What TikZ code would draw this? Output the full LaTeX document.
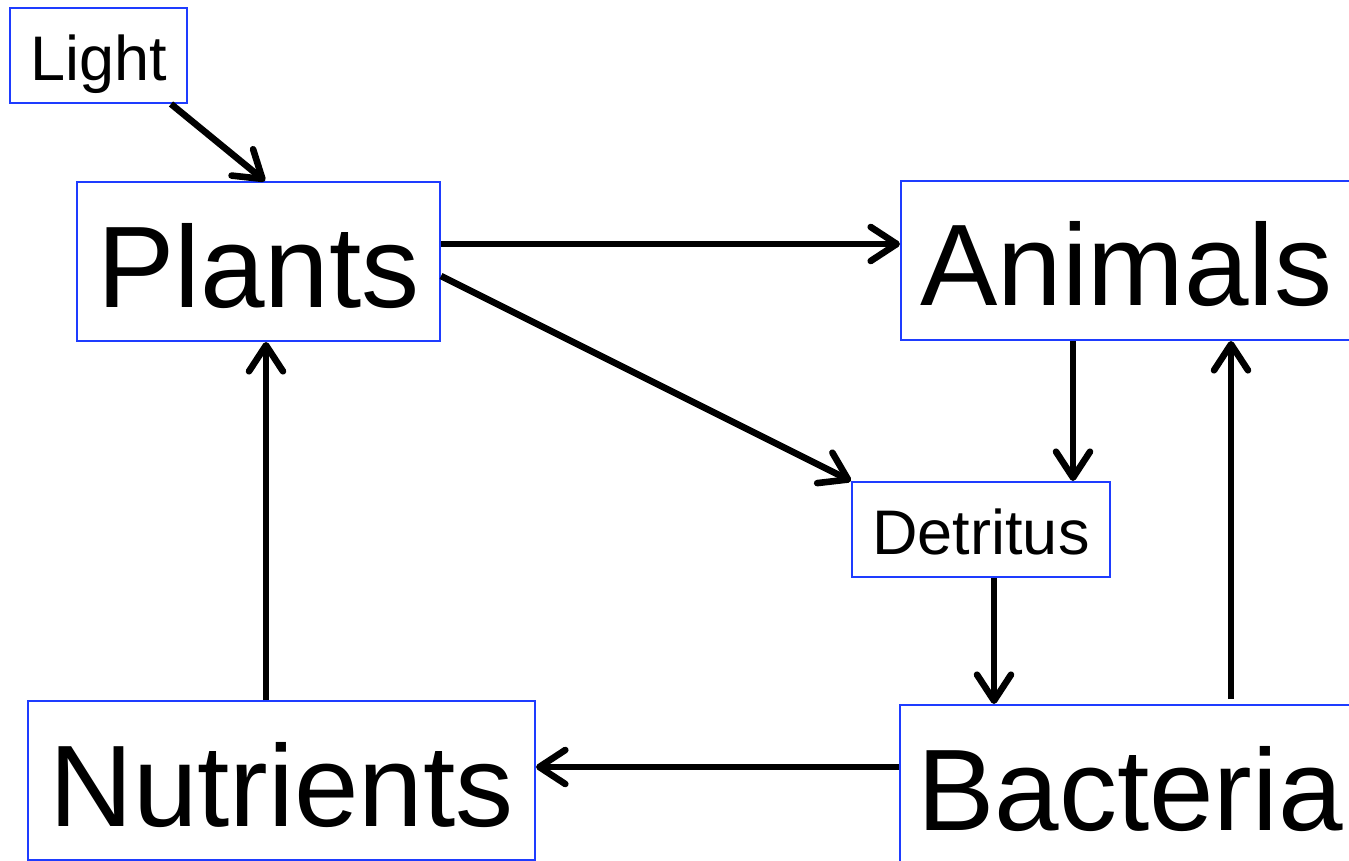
\documentclass[tikz,border=0pt]{standalone}
\usepackage{fontspec}
\setmainfont{Liberation Sans}
\usetikzlibrary{arrows.meta}
\definecolor{boxblue}{RGB}{30,60,255}

\begin{document}
\begin{tikzpicture}[x=0.5pt, y=-0.5pt, >={Straight Barb[length=13pt, width=17pt, round]}]
				\tikzstyle{every node}=[draw=boxblue, line width=1pt, inner sep=0pt, align=center, text depth=0pt]
				\tikzstyle{big}=[font=\fontsize{58}{60}\selectfont, text height=45.5pt, minimum height=79.5pt]
				\tikzstyle{small}=[font=\fontsize{31.5}{34}\selectfont, text height=24.7pt, minimum height=47.5pt]
				\tikzstyle{flow}=[line width=3.3pt]
				\clip (0, 0) rectangle (1349, 861);
				\node[small, minimum width=88.5pt] (Light) at (98.5, 55.5) {Light};
				\node[big, minimum width=181.5pt] (Plants) at (258.5, 261.5) {Plants};
				\node[big, minimum width=225.5pt] (Animals) at (1126.5, 260.5) {Animals};
				\node[small, minimum width=129pt] (Detritus) at (981, 529.5) {Detritus};
				\node[big, minimum width=253.5pt] (Nutrients) at (281.5, 780.5) {Nutrients};
				\node[big, minimum width=230pt] (Bacteria) at (1130, 784.5) {Bacteria};
				\draw [->, flow] ([xshift=-8.5pt]Light.south east) -- ([xshift=3.25pt]Plants.north);
				\draw [->, flow] ([yshift=8.75pt]Plants.east) -- ([yshift=8.25pt]Animals.west);
				\draw [->, flow] ([yshift=-7.25pt]Plants.east) -- (Detritus.north west);
				\draw [->, flow] ([xshift=-26.75pt]Animals.south) -- ([xshift=46pt]Detritus.north);
				\draw [->, flow] ([xshift=6.5pt]Detritus.south) -- ([xshift=-68pt]Bacteria.north);
				\draw [->, flow] ([xshift=50.5pt, yshift=2.5pt]Bacteria.north) -- ([xshift=52.25pt]Animals.south);
				\draw [->, flow] ([yshift=8.75pt]Bacteria.west) -- ([yshift=6.75pt]Nutrients.east);
				\draw [->, flow] ([xshift=-7.75pt]Nutrients.north) -- ([xshift=3.75pt]Plants.south);
\end{tikzpicture}
\end{document}
